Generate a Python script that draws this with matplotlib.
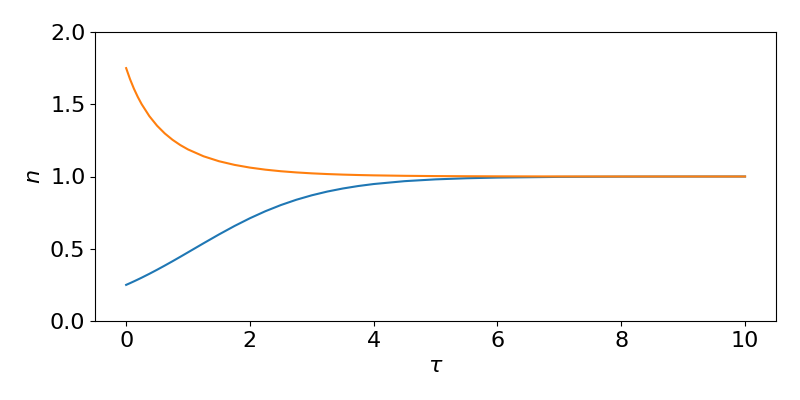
import matplotlib
matplotlib.use("Agg")
import matplotlib.pyplot as plt

tau = [0, 0.0625, 0.125, 0.1875, 0.25, 0.375, 0.5, 0.625, 0.75, 0.875, 1, 1.25,
       1.5, 1.75, 2, 2.25, 2.5, 2.75, 3, 3.25, 3.5, 3.75, 4, 4.5, 5, 5.5, 6, 7,
       8, 9, 10]
n_low = [0.25, 0.2619, 0.2742, 0.2868, 0.2997, 0.3266, 0.3547, 0.3838, 0.4137,
         0.4443, 0.4754, 0.5378, 0.5990, 0.6573, 0.7112, 0.7598, 0.8024, 0.8391,
         0.8700, 0.8958, 0.9169, 0.9341, 0.9479, 0.9678, 0.9802, 0.9879, 0.9926,
         0.9973, 0.9990, 0.9996, 0.9999]
n_high = [1.75, 1.6739, 1.6083, 1.5511, 1.501, 1.4176, 1.3512, 1.2977, 1.2538,
          1.2175, 1.1872, 1.1400, 1.1057, 1.0805, 1.0616, 1.0473, 1.0364, 1.0282,
          1.0218, 1.0169, 1.0131, 1.0102, 1.0079, 1.0048, 1.0029, 1.0018, 1.0011,
          1.0004, 1.0001, 1.0001, 1.0000]

fig, ax = plt.subplots(figsize=(8, 4), dpi=100)
fig.subplots_adjust(left=0.119, right=0.97, top=0.92, bottom=0.1975)
ax.plot(tau, n_low, color="#1f77b4")
ax.plot(tau, n_high, color="#ff7f0e")
ax.set_ylim(0, 2)
ax.set_xticks([0, 2, 4, 6, 8, 10])
ax.set_yticks([0.0, 0.5, 1.0, 1.5, 2.0])
ax.tick_params(labelsize=16)
ax.set_xlabel(r"$\tau$", fontsize=16)
ax.set_ylabel(r"$n$", fontsize=16)
fig.savefig("out.png", dpi=100)
